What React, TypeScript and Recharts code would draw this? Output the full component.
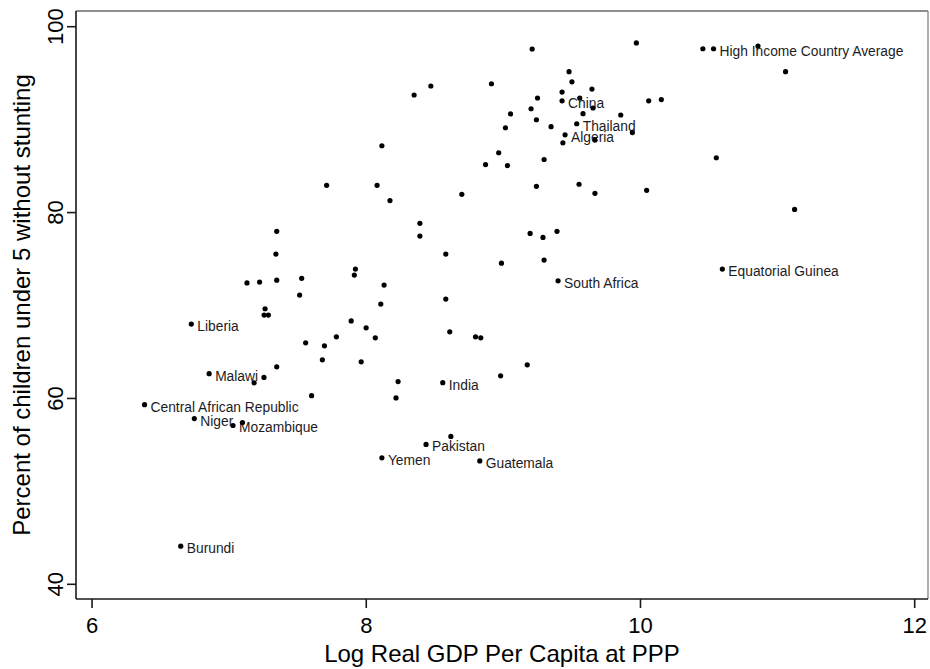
import React from 'react';
import { ScatterChart, Scatter, XAxis, YAxis, ReferenceLine } from 'recharts';

const gdp = [
  9.21, 9.97, 10.455, 10.533, 10.857, 11.058, 9.479, 9.50, 8.913, 8.471,
  8.349, 9.646, 9.428, 9.557, 9.249, 9.428, 10.06, 10.152, 9.654, 9.202,
  9.052, 9.581, 9.856, 9.241, 9.535, 9.348, 9.015, 9.941, 9.45, 9.434,
  9.668, 8.114, 8.966, 8.87, 9.03, 9.297, 10.553, 7.711, 8.079, 8.173,
  8.697, 9.241, 9.552, 9.668, 10.045, 11.124, 8.391, 8.391, 8.58, 9.195,
  9.289, 9.391, 7.347, 7.341, 8.986, 9.297, 7.921, 7.913, 7.13, 7.222,
  7.347, 7.529, 7.514, 9.399, 10.597, 8.13, 8.106, 8.58, 7.262, 7.255,
  7.286, 6.724, 7.89, 7.999, 8.066, 7.782, 7.558, 7.695, 8.609, 8.797,
  8.835, 7.68, 7.963, 7.347, 9.174, 8.98, 6.854, 7.254, 7.182, 8.232,
  8.558, 8.217, 7.601, 6.383, 6.746, 7.028, 7.097, 8.617, 8.436, 8.114,
  8.828, 6.647,
];

const stunting = [
  97.6, 98.25, 97.63, 97.63, 97.92, 95.16, 95.16, 94.07, 93.86, 93.62,
  92.65, 93.29, 92.97, 92.33, 92.33, 92.03, 92.03, 92.16, 91.25, 91.17,
  90.62, 90.64, 90.5, 89.99, 89.56, 89.24, 89.13, 88.61, 88.37, 87.51,
  87.8, 87.19, 86.44, 85.17, 85.06, 85.71, 85.9, 82.93, 82.93, 81.29,
  81.96, 82.83, 83.05, 82.07, 82.39, 80.34, 78.84, 77.47, 75.53, 77.76,
  77.33, 77.98, 77.98, 75.53, 74.56, 74.89, 73.92, 73.27, 72.43, 72.52,
  72.73, 72.93, 71.12, 72.66, 73.92, 72.2, 70.15, 70.69, 69.65, 68.97,
  68.97, 68.0, 68.34, 67.6, 66.52, 66.63, 65.98, 65.66, 67.17, 66.63,
  66.52, 64.16, 63.94, 63.4, 63.62, 62.43, 62.67, 62.26, 61.68, 61.81,
  61.7, 60.06, 60.3, 59.33, 57.83, 57.09, 57.4, 55.91, 55.05, 53.61,
  53.28, 44.1,
];

const countryLabels = [
  '', '', '', 'High Income Country Average', '', '', '', '', '', '',
  '', '', '', '', '', 'China', '', '', '', '',
  '', '', '', '', 'Thailand', '', '', '', 'Algeria', '',
  '', '', '', '', '', '', '', '', '', '',
  '', '', '', '', '', '', '', '', '', '',
  '', '', '', '', '', '', '', '', '', '',
  '', '', '', 'South Africa', 'Equatorial Guinea', '', '', '', '', '',
  '', 'Liberia', '', '', '', '', '', '', '', '',
  '', '', '', '', '', '', 'Malawi', '', '', '',
  'India', '', '', 'Central African Republic', 'Niger', 'Mozambique', '', '', 'Pakistan', 'Yemen',
  'Guatemala', 'Burundi',
];

const xTicks = [6, 8, 10, 12];
const yTicks = [40, 60, 80, 100];
const xTitle = 'Log Real GDP Per Capita at PPP';
const yTitle = 'Percent of children under 5 without stunting';

const X_DOMAIN: [number, number] = [5.883, 12.097];
const Y_DOMAIN: [number, number] = [38.42, 101.69];

const data = gdp.map((x, i) => ({ x, y: stunting[i], label: countryLabels[i] }));

const FONT = '"Liberation Sans", Arial, Helvetica, sans-serif';
const AXIS_COLOR = '#1a1a1a';

const Dot = (props: any) => {
  const { cx, cy, payload } = props;
  return (
    <g>
      <circle cx={cx} cy={cy} r={2.6} fill="#000" />
      {payload.label ? (
        <text x={cx + 6} y={cy + 7} fontSize={13.8} fontFamily={FONT} fill="#1c1c24">
          {payload.label}
        </text>
      ) : null}
    </g>
  );
};

const YTick = (props: any) => {
  const { x, y, payload } = props;
  return (
    <text
      x={x}
      y={y}
      transform={`rotate(-90, ${x}, ${y})`}
      textAnchor="middle"
      fontSize={22}
      fontFamily={FONT}
      fill="#000"
    >
      {payload.value}
    </text>
  );
};

const XTitle = (props: any) => {
  const vb = props.viewBox;
  return (
    <text x={vb.x + vb.width / 2} y={vb.y + 63} textAnchor="middle" fontSize={24} fontFamily={FONT} fill="#000">
      {xTitle}
    </text>
  );
};

const YTitle = (props: any) => {
  const vb = props.viewBox;
  const cx = 30;
  const cy = vb.y + vb.height / 2;
  return (
    <text x={cx} y={cy} transform={`rotate(-90, ${cx}, ${cy})`} textAnchor="middle" fontSize={24} fontFamily={FONT} fill="#000">
      {yTitle}
    </text>
  );
};

export default function App() {
  return (
    <div style={{ width: 930, height: 669, background: '#fff' }}>
      <style>{'body{margin:0;}'}</style>
      <ScatterChart width={930} height={669} margin={{ top: 11, right: 2, bottom: 10, left: 16 }}>
        <XAxis
          type="number"
          dataKey="x"
          domain={X_DOMAIN}
          ticks={xTicks}
          allowDataOverflow
          height={60}
          tickSize={9}
          tickMargin={9}
          axisLine={{ stroke: AXIS_COLOR, strokeWidth: 1.6 }}
          tickLine={{ stroke: AXIS_COLOR, strokeWidth: 1.6 }}
          tick={{ fontSize: 22, fontFamily: FONT, fill: '#000' }}
          label={<XTitle />}
        />
        <YAxis
          type="number"
          dataKey="y"
          domain={Y_DOMAIN}
          ticks={yTicks}
          allowDataOverflow
          width={60}
          tickSize={9}
          tickMargin={4}
          axisLine={{ stroke: AXIS_COLOR, strokeWidth: 1.6 }}
          tickLine={{ stroke: AXIS_COLOR, strokeWidth: 1.6 }}
          tick={<YTick />}
          label={<YTitle />}
        />
        <ReferenceLine y={Y_DOMAIN[1]} stroke="#6a6a6a" strokeWidth={1.6} ifOverflow="visible" />
        <ReferenceLine x={X_DOMAIN[1]} stroke="#8a8a8a" strokeWidth={1.4} ifOverflow="visible" />
        <Scatter data={data} shape={<Dot />} isAnimationActive={false} />
      </ScatterChart>
    </div>
  );
}
